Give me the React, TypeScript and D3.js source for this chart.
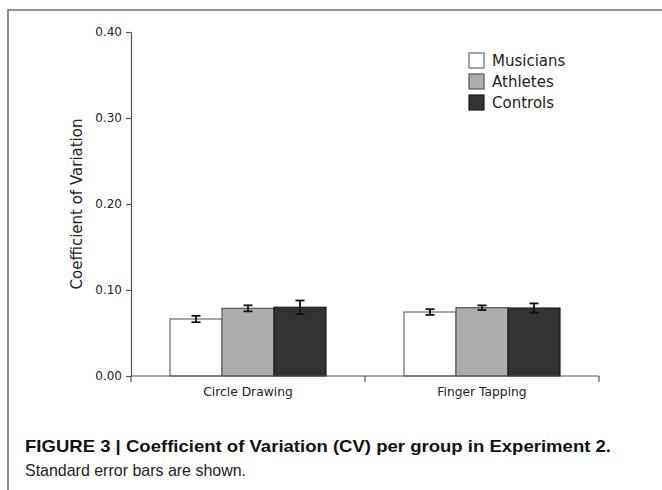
import React, { useEffect, useRef } from 'react';
import * as d3 from 'd3';

const tasks = ['Circle Drawing', 'Finger Tapping'];
const groups = ['Musicians', 'Athletes', 'Controls'];
const groupFills = ['#ffffff', '#adadad', '#333333'];
const groupStrokes = ['#6a6a6a', '#555555', '#1a1a1a'];

// mean CV per task, one array per group
const musiciansCV = [0.0663, 0.0744];
const athletesCV = [0.0787, 0.0794];
const controlsCV = [0.0799, 0.0790];
// standard errors
const musiciansSE = [0.0037, 0.0033];
const athletesSE = [0.0035, 0.0027];
const controlsSE = [0.0079, 0.0054];

const yTicks = [0, 0.1, 0.2, 0.3, 0.4];

export default function App() {
  const chartRef = useRef(null);

  useEffect(() => {
    const W = 662;
    const H = 490;
    const left = 131, right = 599, top = 32, bottom = 376;

    const svg = d3.select(chartRef.current);
    svg.selectAll('*').remove();
    svg.attr('width', W).attr('height', H);

    svg.append('rect').attr('width', W).attr('height', H).attr('fill', '#fff');

    // figure frame
    svg.append('path')
      .attr('d', `M8,${H} L8,10 L${W},10`)
      .attr('fill', 'none')
      .attr('stroke', '#6e6e6e')
      .attr('stroke-width', 1.6);

    const means = [musiciansCV, athletesCV, controlsCV];
    const errs = [musiciansSE, athletesSE, controlsSE];

    const xScale = d3.scaleBand().domain(tasks).range([left, right]).padding(0);
    const xGroup = d3.scaleBand().domain(groups)
      .range([0, xScale.bandwidth()])
      .paddingInner(0)
      .paddingOuter(0.75);
    const yScale = d3.scaleLinear().domain([0, 0.4]).range([bottom, top]);

    const font = 'DejaVu Sans, sans-serif';

    // bars
    groups.forEach((g, gi) => {
      svg.append('g').selectAll('rect')
        .data(tasks)
        .enter().append('rect')
        .attr('x', t => xScale(t) + xGroup(g))
        .attr('y', (t, i) => yScale(means[gi][i]))
        .attr('width', xGroup.bandwidth())
        .attr('height', (t, i) => bottom - yScale(means[gi][i]))
        .attr('fill', groupFills[gi])
        .attr('stroke', groupStrokes[gi])
        .attr('stroke-width', 1.2);
    });

    // error bars
    groups.forEach((g, gi) => {
      tasks.forEach((t, i) => {
        const cx = xScale(t) + xGroup(g) + xGroup.bandwidth() / 2;
        const y1 = yScale(means[gi][i] + errs[gi][i]);
        const y2 = yScale(means[gi][i] - errs[gi][i]);
        const eb = svg.append('g')
          .attr('stroke', '#111')
          .attr('stroke-width', 1.8);
        eb.append('line').attr('x1', cx).attr('x2', cx).attr('y1', y1).attr('y2', y2);
        eb.append('line').attr('x1', cx - 4.5).attr('x2', cx + 4.5).attr('y1', y1).attr('y2', y1);
        eb.append('line').attr('x1', cx - 4.5).attr('x2', cx + 4.5).attr('y1', y2).attr('y2', y2);
      });
    });

    // y axis
    const yAxis = svg.append('g')
      .attr('transform', `translate(${left},0)`)
      .call(d3.axisLeft(yScale).tickValues(yTicks).tickFormat(d3.format('.2f')).tickSize(5).tickSizeOuter(0));
    yAxis.select('.domain').attr('stroke', '#555').attr('stroke-width', 1.2);
    yAxis.selectAll('.tick line').attr('stroke', '#555').attr('stroke-width', 1.2);
    yAxis.selectAll('.tick text')
      .attr('fill', '#222')
      .style('font-family', font)
      .style('font-size', '12px')
      .attr('x', -9);

    // x axis
    const xAxis = svg.append('g')
      .attr('transform', `translate(0,${bottom})`);
    xAxis.append('line')
      .attr('x1', left).attr('x2', right)
      .attr('stroke', '#555').attr('stroke-width', 1.2);
    const bounds = [left, ...tasks.map(t => xScale(t) + xScale.bandwidth())];
    xAxis.selectAll('.xtick')
      .data(bounds)
      .enter().append('line')
      .attr('x1', d => d).attr('x2', d => d)
      .attr('y1', 0).attr('y2', 6)
      .attr('stroke', '#555').attr('stroke-width', 1.2);
    xAxis.selectAll('.xlabel')
      .data(tasks)
      .enter().append('text')
      .attr('x', t => xScale(t) + xScale.bandwidth() / 2)
      .attr('y', 20)
      .attr('text-anchor', 'middle')
      .attr('fill', '#222')
      .style('font-family', font)
      .style('font-size', '12.3px')
      .text(t => t);

    // y axis title
    svg.append('text')
      .attr('transform', `translate(82,${(top + bottom) / 2}) rotate(-90)`)
      .attr('text-anchor', 'middle')
      .attr('fill', '#222')
      .style('font-family', font)
      .style('font-size', '15px')
      .text('Coefficient of Variation');

    // legend
    const legend = svg.append('g').attr('transform', 'translate(469,53)');
    groups.forEach((g, gi) => {
      legend.append('rect')
        .attr('x', 0).attr('y', gi * 21)
        .attr('width', 15).attr('height', 15)
        .attr('fill', groupFills[gi])
        .attr('stroke', groupStrokes[gi])
        .attr('stroke-width', 1.2);
      legend.append('text')
        .attr('x', 23).attr('y', gi * 21 + 13)
        .attr('fill', '#222')
        .style('font-family', font)
        .style('font-size', '15px')
        .text(g);
    });

    // caption
    svg.append('text')
      .attr('x', 25).attr('y', 452)
      .attr('textLength', 586)
      .attr('lengthAdjust', 'spacingAndGlyphs')
      .attr('fill', '#111')
      .style('font-family', 'Liberation Sans, Arial, sans-serif')
      .style('font-weight', 'bold')
      .style('font-size', '17px')
      .text('FIGURE 3 | Coefficient of Variation (CV) per group in Experiment 2.');
    svg.append('text')
      .attr('x', 25).attr('y', 476)
      .attr('textLength', 221)
      .attr('lengthAdjust', 'spacingAndGlyphs')
      .attr('fill', '#222')
      .style('font-family', 'Liberation Sans, Arial, sans-serif')
      .style('font-size', '17px')
      .text('Standard error bars are shown.');
  }, []);

  return (
    <svg ref={chartRef} style={{ position: 'absolute', left: 0, top: 0, display: 'block' }} />
  );
}
